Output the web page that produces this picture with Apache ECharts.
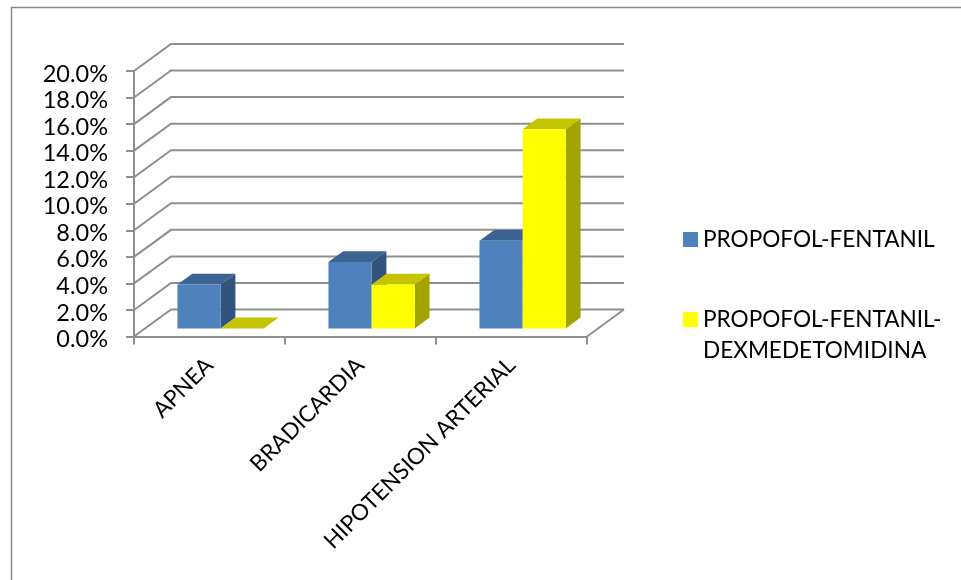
<!DOCTYPE html>
<html>
<head>
<meta charset="utf-8">
<style>html,body{margin:0;padding:0;background:#fff}#chart{width:961px;height:580px}</style>
<script src="https://cdn.jsdelivr.net/npm/echarts@6/dist/echarts.min.js"></script>
</head>
<body>
<div id="chart"></div>
<script>
const categories = ['APNEA', 'BRADICARDIA', 'HIPOTENSION ARTERIAL'];
const propofolFentanil = [3.3, 5.0, 6.6];
const propofolFentanilDex = [0, 3.3, 15.0];
const yTicks = [0, 2, 4, 6, 8, 10, 12, 14, 16, 18, 20];
const seriesNames = ['PROPOFOL-FENTANIL', 'PROPOFOL-FENTANIL-\nDEXMEDETOMIDINA'];

// Oblique projection of the chart box: how far the back wall sits from the front plane.
const WALL_DX = 37, WALL_DY = -27;
const GAP_DEPTH = 0.3, BAR_DEPTH = 0.4;
const GAP_WIDTH = 1.5;
const GRID_COLOR = '#8f8f8f';
const FONT = 'Lato, "Open Sans", sans-serif';

const faces = [
  { front: '#4f81bd', top: '#3c6391', side: '#31547f' },
  { front: '#ffff00', top: '#c4c400', side: '#a3a300' }
];

function poly(points, fill) {
  return { type: 'polygon', shape: { points }, style: { fill, stroke: null } };
}

// Draws one box per category: side and top faces first, front face last.
function barRenderer(seriesIndex) {
  return function (params, api) {
    const cat = api.value(0), val = api.value(1);
    const base = api.coord([cat, 0]);
    const peak = api.coord([cat, val]);
    const band = api.size([1, 0])[0];
    const w = band / (2 + GAP_WIDTH);
    const x0 = base[0] - w + seriesIndex * w + GAP_DEPTH * WALL_DX;
    const x1 = x0 + w;
    const yb = base[1] + GAP_DEPTH * WALL_DY;
    const yt = peak[1] + GAP_DEPTH * WALL_DY;
    const dx = BAR_DEPTH * WALL_DX, dy = BAR_DEPTH * WALL_DY;
    const c = faces[seriesIndex];
    return {
      type: 'group',
      children: [
        poly([[x1, yb], [x1 + dx, yb + dy], [x1 + dx, yt + dy], [x1, yt]], c.side),
        poly([[x0, yt], [x1, yt], [x1 + dx, yt + dy], [x0 + dx, yt + dy]], c.top),
        poly([[x0, yb], [x1, yb], [x1, yt], [x0, yt]], c.front)
      ]
    };
  };
}

// Gridline that runs up the left wall and along the back wall at a given value.
function wallRenderer(params, api) {
  const v = api.value(0);
  const left = api.coord([0, v]);
  const xStart = left[0] - api.size([1, 0])[0] / 2;
  const xEnd = xStart + api.size([1, 0])[0] * categories.length;
  return {
    type: 'polyline',
    shape: { points: [[xStart, left[1]], [xStart + WALL_DX, left[1] + WALL_DY], [xEnd + WALL_DX, left[1] + WALL_DY]] },
    style: { stroke: GRID_COLOR, lineWidth: 2, fill: null }
  };
}

// Right-hand edge of the floor.
function floorRenderer(params, api) {
  const p = api.coord([categories.length - 1, 0]);
  const xEnd = p[0] + api.size([1, 0])[0] / 2;
  return {
    type: 'line',
    shape: { x1: xEnd, y1: p[1], x2: xEnd + WALL_DX, y2: p[1] + WALL_DY },
    style: { stroke: GRID_COLOR, lineWidth: 2 }
  };
}

const chart = echarts.init(document.getElementById('chart'), null, { renderer: 'canvas' });
chart.setOption({
  animation: false,
  backgroundColor: '#ffffff',
  graphic: [{
    type: 'rect', silent: true, z: -1,
    shape: { x: 11.5, y: 7.5, width: 1000, height: 600 },
    style: { fill: null, stroke: '#8a8a8a', lineWidth: 1.5 }
  }],
  grid: { left: 134, top: 71, width: 453, height: 265.5, containLabel: false },
  xAxis: {
    type: 'category',
    data: categories,
    axisLine: { lineStyle: { color: GRID_COLOR, width: 2 } },
    axisTick: { show: true, alignWithLabel: false, length: 8, lineStyle: { color: GRID_COLOR, width: 2 } },
    axisLabel: { rotate: 45, interval: 0, margin: 25, color: '#000', fontFamily: FONT, fontSize: 22.5 },
    splitLine: { show: false }
  },
  yAxis: {
    type: 'value',
    min: 0, max: 20, interval: 2,
    axisLine: { show: true, lineStyle: { color: GRID_COLOR, width: 2 } },
    axisTick: { show: true, length: 8, lineStyle: { color: GRID_COLOR, width: 2 } },
    axisLabel: { formatter: v => v.toFixed(1) + '%', margin: 26, color: '#000', fontFamily: FONT, fontSize: 23.5, verticalAlign: 'top', lineHeight: 6 },
    splitLine: { show: false }
  },
  legend: [
    {
      left: 683, top: 224, orient: 'vertical', padding: 0,
      itemWidth: 15, itemHeight: 15, itemGap: 0,
      icon: 'rect', selectedMode: false,
      data: [{ name: seriesNames[0] }],
      textStyle: { color: '#000', fontFamily: FONT, fontSize: 22.6, lineHeight: 31 }
    },
    {
      left: 683, top: 273, orient: 'vertical', padding: 0,
      itemWidth: 15, itemHeight: 15, itemGap: 0,
      icon: 'rect', selectedMode: false,
      data: [{ name: seriesNames[1] }],
      // A blank first line keeps the swatch level with the first row of the wrapped name.
      formatter: name => '\n' + name,
      textStyle: { color: '#000', fontFamily: FONT, fontSize: 22.6, lineHeight: 31 }
    }
  ],
  series: [
    {
      type: 'custom', silent: true, z: 1, renderItem: wallRenderer,
      encode: { x: -1, y: 0 }, data: yTicks.map(v => [v])
    },
    {
      type: 'custom', silent: true, z: 1, renderItem: floorRenderer,
      encode: { x: -1, y: 0 }, data: [[0]]
    },
    {
      name: seriesNames[0], type: 'custom', z: 2, renderItem: barRenderer(0),
      itemStyle: { color: faces[0].front },
      encode: { x: 0, y: 1 }, data: propofolFentanil.map((v, i) => [i, v])
    },
    {
      name: seriesNames[1], type: 'custom', z: 3, renderItem: barRenderer(1),
      itemStyle: { color: faces[1].front },
      encode: { x: 0, y: 1 }, data: propofolFentanilDex.map((v, i) => [i, v])
    }
  ]
});
</script>
</body>
</html>
